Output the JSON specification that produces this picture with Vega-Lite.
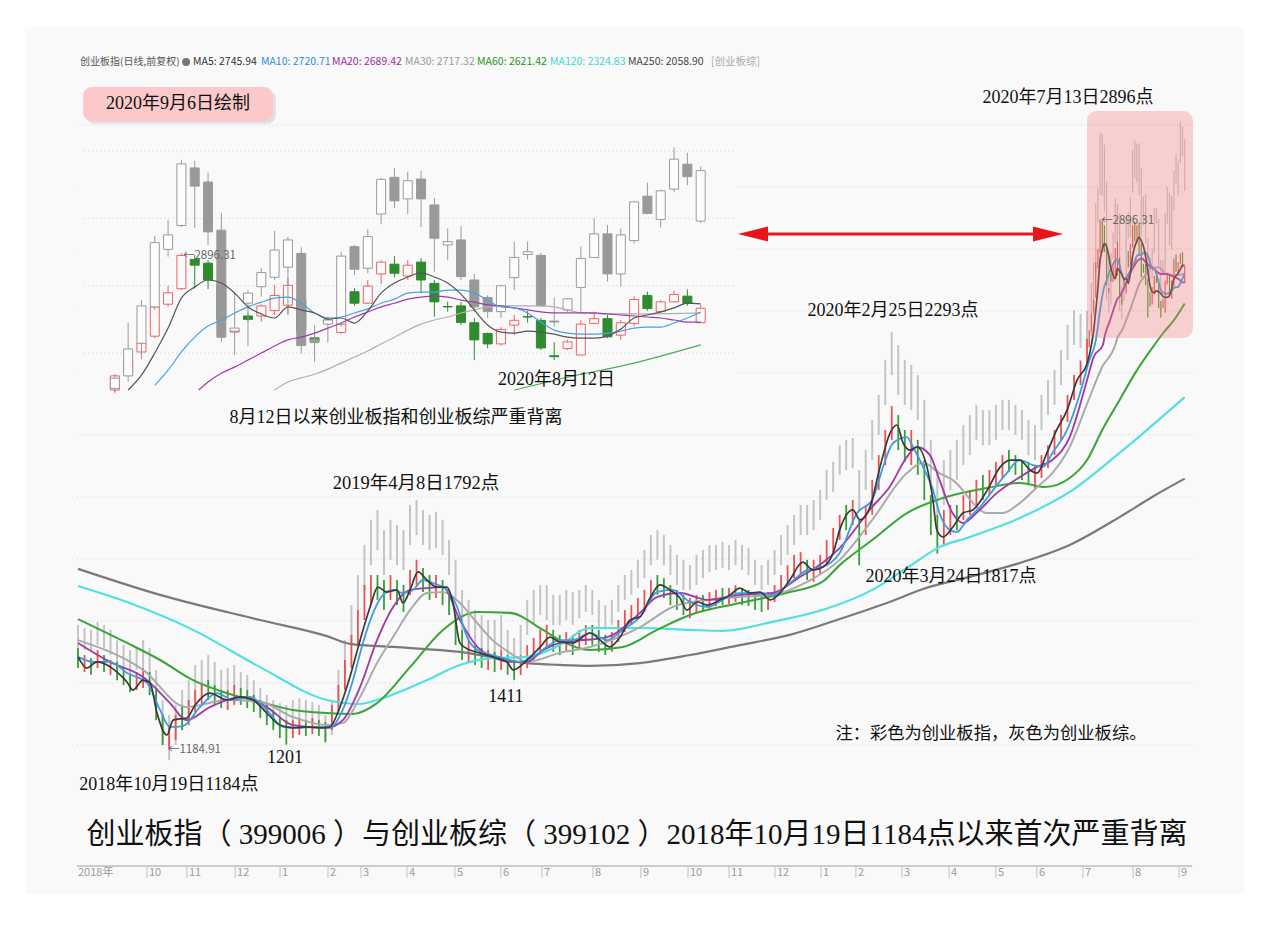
{
"$schema":"https://vega.github.io/schema/vega-lite/v6.json",
"width":1273,"height":936,"autosize":{"type":"none"},"padding":0,"background":"#ffffff",
"config":{"view":{"stroke":null}},
"data":{"values":[{}]},
"datasets":{
"grid":[{"g":1200},{"g":1400},{"g":1600},{"g":1800},{"g":2000},{"g":2200},{"g":2400},{"g":2600},{"g":2800},{"g":3000},{"g":3200}],
"igrid":[{"g":2600},{"g":2800},{"g":3000},{"g":3200}],
"months":[{"i":31.8,"t":"10"},{"i":50.2,"t":"11"},{"i":72.4,"t":"12"},{"i":93.1,"t":"1"},{"i":115.2,"t":"2"},{"i":130.4,"t":"3"},{"i":151.6,"t":"4"},{"i":173.7,"t":"5"},{"i":194.9,"t":"6"},{"i":213.8,"t":"7"},{"i":237.3,"t":"8"},{"i":259.4,"t":"9"},{"i":281.1,"t":"10"},{"i":300,"t":"11"},{"i":321.2,"t":"12"},{"i":342.4,"t":"1"},{"i":358.5,"t":"2"},{"i":379.7,"t":"3"},{"i":401.4,"t":"4"},{"i":423,"t":"5"},{"i":441.9,"t":"6"},{"i":463.1,"t":"7"},{"i":486.2,"t":"8"},{"i":507.4,"t":"9"}],
"bars":[
{"i":0,"ch":1513,"cl":1448,"u":0,"gh":1587,"gl":1500},
{"i":3,"ch":1490,"cl":1435,"u":1,"gh":1577,"gl":1506},
{"i":6,"ch":1480,"cl":1426,"u":0,"gh":1571,"gl":1500},
{"i":9,"ch":1506,"cl":1448,"u":1,"gh":1597,"gl":1522},
{"i":12,"ch":1490,"cl":1435,"u":0,"gh":1587,"gl":1513},
{"i":15,"ch":1474,"cl":1426,"u":1,"gh":1571,"gl":1490},
{"i":18,"ch":1468,"cl":1409,"u":0,"gh":1538,"gl":1468},
{"i":21,"ch":1448,"cl":1393,"u":0,"gh":1522,"gl":1448},
{"i":24,"ch":1426,"cl":1371,"u":0,"gh":1506,"gl":1426},
{"i":27,"ch":1435,"cl":1377,"u":1,"gh":1513,"gl":1442},
{"i":30,"ch":1448,"cl":1384,"u":1,"gh":1538,"gl":1448},
{"i":33,"ch":1435,"cl":1361,"u":0,"gh":1513,"gl":1426},
{"i":36,"ch":1377,"cl":1280,"u":0,"gh":1442,"gl":1313},
{"i":39,"ch":1297,"cl":1200,"u":0,"gh":1345,"gl":1200},
{"i":42,"ch":1264,"cl":1185,"u":1,"gh":1297,"gl":1151},
{"i":45,"ch":1297,"cl":1216,"u":1,"gh":1329,"gl":1200},
{"i":48,"ch":1329,"cl":1248,"u":0,"gh":1377,"gl":1248},
{"i":51,"ch":1345,"cl":1264,"u":1,"gh":1409,"gl":1297},
{"i":54,"ch":1377,"cl":1306,"u":1,"gh":1458,"gl":1345},
{"i":57,"ch":1393,"cl":1329,"u":1,"gh":1474,"gl":1377},
{"i":60,"ch":1409,"cl":1345,"u":0,"gh":1490,"gl":1393},
{"i":63,"ch":1393,"cl":1329,"u":0,"gh":1468,"gl":1377},
{"i":66,"ch":1377,"cl":1319,"u":0,"gh":1442,"gl":1361},
{"i":69,"ch":1377,"cl":1313,"u":1,"gh":1448,"gl":1361},
{"i":72,"ch":1393,"cl":1329,"u":1,"gh":1458,"gl":1377},
{"i":75,"ch":1384,"cl":1329,"u":0,"gh":1435,"gl":1361},
{"i":78,"ch":1377,"cl":1319,"u":0,"gh":1426,"gl":1352},
{"i":81,"ch":1361,"cl":1306,"u":0,"gh":1409,"gl":1329},
{"i":84,"ch":1345,"cl":1287,"u":0,"gh":1384,"gl":1306},
{"i":87,"ch":1329,"cl":1264,"u":0,"gh":1361,"gl":1287},
{"i":90,"ch":1306,"cl":1248,"u":0,"gh":1345,"gl":1264},
{"i":93,"ch":1287,"cl":1222,"u":0,"gh":1335,"gl":1255},
{"i":96,"ch":1280,"cl":1201,"u":0,"gh":1329,"gl":1264},
{"i":99,"ch":1280,"cl":1222,"u":1,"gh":1345,"gl":1274},
{"i":102,"ch":1287,"cl":1232,"u":1,"gh":1351,"gl":1280},
{"i":105,"ch":1280,"cl":1229,"u":0,"gh":1345,"gl":1274},
{"i":108,"ch":1287,"cl":1235,"u":1,"gh":1338,"gl":1274},
{"i":111,"ch":1280,"cl":1229,"u":0,"gh":1329,"gl":1264},
{"i":114,"ch":1274,"cl":1209,"u":0,"gh":1297,"gl":1209},
{"i":117,"ch":1329,"cl":1248,"u":1,"gh":1345,"gl":1232},
{"i":120,"ch":1393,"cl":1306,"u":1,"gh":1442,"gl":1329},
{"i":123,"ch":1474,"cl":1377,"u":1,"gh":1538,"gl":1426},
{"i":126,"ch":1555,"cl":1448,"u":1,"gh":1651,"gl":1522},
{"i":129,"ch":1635,"cl":1522,"u":1,"gh":1748,"gl":1619},
{"i":132,"ch":1716,"cl":1603,"u":1,"gh":1845,"gl":1700},
{"i":135,"ch":1748,"cl":1651,"u":1,"gh":1926,"gl":1780},
{"i":138,"ch":1748,"cl":1668,"u":0,"gh":1958,"gl":1829},
{"i":141,"ch":1732,"cl":1635,"u":0,"gh":1893,"gl":1748},
{"i":144,"ch":1748,"cl":1668,"u":1,"gh":1926,"gl":1797},
{"i":147,"ch":1732,"cl":1651,"u":0,"gh":1909,"gl":1780},
{"i":150,"ch":1716,"cl":1629,"u":0,"gh":1893,"gl":1764},
{"i":153,"ch":1764,"cl":1684,"u":1,"gh":1974,"gl":1845},
{"i":156,"ch":1797,"cl":1716,"u":1,"gh":1990,"gl":1877},
{"i":159,"ch":1771,"cl":1693,"u":0,"gh":1958,"gl":1845},
{"i":162,"ch":1748,"cl":1668,"u":0,"gh":1942,"gl":1829},
{"i":165,"ch":1748,"cl":1674,"u":1,"gh":1952,"gl":1835},
{"i":168,"ch":1732,"cl":1651,"u":0,"gh":1926,"gl":1813},
{"i":171,"ch":1700,"cl":1619,"u":0,"gh":1861,"gl":1748},
{"i":174,"ch":1619,"cl":1522,"u":0,"gh":1797,"gl":1668},
{"i":177,"ch":1571,"cl":1474,"u":0,"gh":1700,"gl":1571},
{"i":180,"ch":1538,"cl":1468,"u":1,"gh":1668,"gl":1538},
{"i":183,"ch":1522,"cl":1458,"u":0,"gh":1635,"gl":1522},
{"i":186,"ch":1513,"cl":1448,"u":0,"gh":1619,"gl":1506},
{"i":189,"ch":1506,"cl":1442,"u":1,"gh":1603,"gl":1490},
{"i":192,"ch":1500,"cl":1435,"u":0,"gh":1603,"gl":1474},
{"i":195,"ch":1506,"cl":1442,"u":1,"gh":1619,"gl":1506},
{"i":198,"ch":1490,"cl":1426,"u":0,"gh":1571,"gl":1468},
{"i":201,"ch":1474,"cl":1409,"u":0,"gh":1545,"gl":1458},
{"i":204,"ch":1490,"cl":1426,"u":1,"gh":1587,"gl":1490},
{"i":207,"ch":1522,"cl":1448,"u":1,"gh":1668,"gl":1555},
{"i":210,"ch":1545,"cl":1474,"u":1,"gh":1700,"gl":1587},
{"i":213,"ch":1571,"cl":1500,"u":1,"gh":1716,"gl":1619},
{"i":216,"ch":1587,"cl":1513,"u":1,"gh":1716,"gl":1603},
{"i":219,"ch":1571,"cl":1500,"u":0,"gh":1684,"gl":1587},
{"i":222,"ch":1555,"cl":1490,"u":0,"gh":1684,"gl":1587},
{"i":225,"ch":1564,"cl":1500,"u":1,"gh":1700,"gl":1603},
{"i":228,"ch":1555,"cl":1490,"u":0,"gh":1693,"gl":1587},
{"i":231,"ch":1571,"cl":1506,"u":1,"gh":1700,"gl":1609},
{"i":234,"ch":1587,"cl":1522,"u":1,"gh":1716,"gl":1629},
{"i":237,"ch":1587,"cl":1522,"u":0,"gh":1700,"gl":1619},
{"i":240,"ch":1571,"cl":1500,"u":0,"gh":1668,"gl":1577},
{"i":243,"ch":1555,"cl":1490,"u":0,"gh":1651,"gl":1571},
{"i":246,"ch":1564,"cl":1500,"u":1,"gh":1668,"gl":1587},
{"i":249,"ch":1603,"cl":1532,"u":1,"gh":1716,"gl":1629},
{"i":252,"ch":1635,"cl":1564,"u":1,"gh":1748,"gl":1668},
{"i":255,"ch":1651,"cl":1587,"u":1,"gh":1764,"gl":1684},
{"i":258,"ch":1674,"cl":1603,"u":1,"gh":1797,"gl":1706},
{"i":261,"ch":1700,"cl":1629,"u":1,"gh":1829,"gl":1738},
{"i":264,"ch":1732,"cl":1668,"u":1,"gh":1877,"gl":1780},
{"i":267,"ch":1748,"cl":1684,"u":0,"gh":1893,"gl":1797},
{"i":270,"ch":1738,"cl":1674,"u":0,"gh":1877,"gl":1780},
{"i":273,"ch":1716,"cl":1651,"u":0,"gh":1845,"gl":1748},
{"i":276,"ch":1700,"cl":1635,"u":0,"gh":1813,"gl":1716},
{"i":279,"ch":1684,"cl":1619,"u":0,"gh":1797,"gl":1700},
{"i":282,"ch":1674,"cl":1609,"u":1,"gh":1780,"gl":1700},
{"i":285,"ch":1684,"cl":1629,"u":1,"gh":1813,"gl":1716},
{"i":288,"ch":1684,"cl":1629,"u":0,"gh":1829,"gl":1738},
{"i":291,"ch":1693,"cl":1635,"u":1,"gh":1845,"gl":1758},
{"i":294,"ch":1700,"cl":1648,"u":1,"gh":1845,"gl":1764},
{"i":297,"ch":1706,"cl":1651,"u":0,"gh":1855,"gl":1771},
{"i":300,"ch":1706,"cl":1655,"u":1,"gh":1845,"gl":1764},
{"i":303,"ch":1716,"cl":1661,"u":1,"gh":1861,"gl":1780},
{"i":306,"ch":1706,"cl":1651,"u":0,"gh":1845,"gl":1764},
{"i":309,"ch":1700,"cl":1648,"u":0,"gh":1835,"gl":1748},
{"i":312,"ch":1693,"cl":1635,"u":0,"gh":1797,"gl":1716},
{"i":315,"ch":1684,"cl":1629,"u":0,"gh":1780,"gl":1700},
{"i":318,"ch":1693,"cl":1635,"u":1,"gh":1797,"gl":1716},
{"i":321,"ch":1716,"cl":1661,"u":1,"gh":1829,"gl":1748},
{"i":324,"ch":1748,"cl":1684,"u":1,"gh":1877,"gl":1780},
{"i":327,"ch":1780,"cl":1716,"u":1,"gh":1909,"gl":1813},
{"i":330,"ch":1813,"cl":1738,"u":1,"gh":1942,"gl":1845},
{"i":333,"ch":1822,"cl":1748,"u":1,"gh":1974,"gl":1877},
{"i":336,"ch":1797,"cl":1732,"u":0,"gh":1974,"gl":1877},
{"i":339,"ch":1797,"cl":1726,"u":1,"gh":1990,"gl":1893},
{"i":342,"ch":1813,"cl":1748,"u":1,"gh":2022,"gl":1926},
{"i":345,"ch":1861,"cl":1780,"u":1,"gh":2087,"gl":1990},
{"i":348,"ch":1900,"cl":1822,"u":1,"gh":2113,"gl":2016},
{"i":351,"ch":1942,"cl":1861,"u":1,"gh":2167,"gl":2071},
{"i":354,"ch":1974,"cl":1893,"u":0,"gh":2184,"gl":2087},
{"i":357,"ch":1990,"cl":1909,"u":1,"gh":2190,"gl":2093},
{"i":360,"ch":1926,"cl":1780,"u":0,"gh":2087,"gl":1958},
{"i":363,"ch":1974,"cl":1877,"u":1,"gh":2151,"gl":2022},
{"i":366,"ch":2055,"cl":1942,"u":1,"gh":2248,"gl":2119},
{"i":369,"ch":2135,"cl":2022,"u":1,"gh":2329,"gl":2200},
{"i":372,"ch":2216,"cl":2103,"u":1,"gh":2442,"gl":2297},
{"i":375,"ch":2293,"cl":2184,"u":1,"gh":2532,"gl":2393},
{"i":378,"ch":2264,"cl":2151,"u":0,"gh":2490,"gl":2329},
{"i":381,"ch":2216,"cl":2113,"u":0,"gh":2442,"gl":2297},
{"i":384,"ch":2216,"cl":2103,"u":1,"gh":2426,"gl":2280},
{"i":387,"ch":2184,"cl":2071,"u":0,"gh":2393,"gl":2248},
{"i":390,"ch":2119,"cl":1990,"u":0,"gh":2313,"gl":2151},
{"i":393,"ch":2006,"cl":1877,"u":0,"gh":2184,"gl":2022},
{"i":396,"ch":1942,"cl":1817,"u":0,"gh":2087,"gl":1942},
{"i":399,"ch":1958,"cl":1845,"u":1,"gh":2119,"gl":1974},
{"i":402,"ch":1974,"cl":1877,"u":1,"gh":2151,"gl":2022},
{"i":405,"ch":1974,"cl":1893,"u":0,"gh":2184,"gl":2055},
{"i":408,"ch":2006,"cl":1926,"u":1,"gh":2232,"gl":2103},
{"i":411,"ch":2022,"cl":1942,"u":1,"gh":2264,"gl":2135},
{"i":414,"ch":2055,"cl":1974,"u":1,"gh":2297,"gl":2184},
{"i":417,"ch":2071,"cl":1990,"u":0,"gh":2280,"gl":2167},
{"i":420,"ch":2087,"cl":2006,"u":1,"gh":2280,"gl":2167},
{"i":423,"ch":2113,"cl":2038,"u":1,"gh":2297,"gl":2184},
{"i":426,"ch":2135,"cl":2061,"u":1,"gh":2313,"gl":2216},
{"i":429,"ch":2151,"cl":2080,"u":0,"gh":2313,"gl":2216},
{"i":432,"ch":2135,"cl":2071,"u":0,"gh":2297,"gl":2200},
{"i":435,"ch":2119,"cl":2055,"u":0,"gh":2280,"gl":2184},
{"i":438,"ch":2113,"cl":2038,"u":0,"gh":2248,"gl":2135},
{"i":441,"ch":2103,"cl":2022,"u":1,"gh":2232,"gl":2119},
{"i":444,"ch":2135,"cl":2061,"u":1,"gh":2329,"gl":2216},
{"i":447,"ch":2167,"cl":2093,"u":1,"gh":2377,"gl":2264},
{"i":450,"ch":2216,"cl":2135,"u":1,"gh":2409,"gl":2297},
{"i":453,"ch":2264,"cl":2184,"u":1,"gh":2474,"gl":2361},
{"i":456,"ch":2329,"cl":2242,"u":1,"gh":2555,"gl":2442},
{"i":459,"ch":2393,"cl":2313,"u":1,"gh":2603,"gl":2490},
{"i":462,"ch":2440,"cl":2361,"u":1,"gh":2590,"gl":2480},
{"i":465,"ch":2510,"cl":2420,"u":1,"gh":2600,"gl":2500},
{"i":466,"go":2495,"gc":2525,"gh":2535,"gl":2480,"co":2490,"cc":2532,"ch":2537,"cl":2484,"u":1},
{"i":467,"go":2532,"gc":2612,"gh":2690,"gl":2515,"co":2543,"cc":2579,"ch":2591,"cl":2534,"u":1},
{"i":468,"go":2629,"gc":2740,"gh":2757,"gl":2582,"co":2603,"cc":2630,"ch":2636,"cl":2594,"u":1},
{"i":469,"go":2737,"gc":2928,"gh":2948,"gl":2728,"co":2650,"cc":2737,"ch":2757,"cl":2644,"u":1},
{"i":470,"go":2908,"gc":2951,"gh":2995,"gl":2886,"co":2745,"cc":2779,"ch":2800,"cl":2737,"u":1},
{"i":471,"go":2979,"gc":3162,"gh":3174,"gl":2974,"co":2791,"cc":2890,"ch":2896,"cl":2787,"u":1},
{"i":472,"go":3150,"gc":3096,"gh":3171,"gl":2972,"co":2878,"cc":2861,"ch":2891,"cl":2792,"u":0},
{"i":473,"go":3108,"gc":2960,"gh":3136,"gl":2921,"co":2867,"cc":2817,"ch":2876,"cl":2790,"u":0},
{"i":474,"go":2965,"gc":2647,"gh":3017,"gl":2633,"co":2802,"cc":2698,"ch":2817,"cl":2683,"u":0},
{"i":475,"go":2665,"gc":2674,"gh":2778,"gl":2594,"co":2662,"cc":2666,"ch":2674,"cl":2659,"u":1},
{"i":476,"go":2748,"gc":2778,"gh":2787,"gl":2621,"co":2710,"cc":2700,"ch":2719,"cl":2695,"u":0},
{"i":477,"go":2797,"gc":2839,"gh":2852,"gl":2767,"co":2710,"cc":2740,"ch":2745,"cl":2693,"u":1},
{"i":478,"go":2825,"gc":2906,"gh":2963,"gl":2817,"co":2726,"cc":2771,"ch":2802,"cl":2713,"u":1},
{"i":479,"go":2855,"gc":2936,"gh":2945,"gl":2718,"co":2742,"cc":2801,"ch":2823,"cl":2713,"u":1},
{"i":480,"go":2896,"gc":2622,"gh":2914,"gl":2599,"co":2757,"cc":2668,"ch":2772,"cl":2653,"u":0},
{"i":481,"go":2641,"gc":2631,"gh":2683,"gl":2574,"co":2645,"cc":2636,"ch":2652,"cl":2620,"u":0},
{"i":482,"go":2686,"gc":2698,"gh":2708,"gl":2631,"co":2698,"cc":2692,"ch":2704,"cl":2683,"u":0},
{"i":483,"go":2686,"gc":2888,"gh":2900,"gl":2677,"co":2661,"cc":2686,"ch":2692,"cl":2656,"u":1},
{"i":484,"go":2916,"gc":2849,"gh":2921,"gl":2832,"co":2782,"cc":2748,"ch":2793,"cl":2740,"u":0},
{"i":485,"go":2852,"gc":2946,"gh":2968,"gl":2837,"co":2748,"cc":2799,"ch":2817,"cl":2745,"u":1},
{"i":486,"go":3013,"gc":3116,"gh":3120,"gl":2983,"co":2835,"cc":2870,"ch":2876,"cl":2805,"u":1},
{"i":487,"go":3122,"gc":3052,"gh":3149,"gl":3030,"co":2864,"cc":2837,"ch":2888,"cl":2825,"u":0},
{"i":488,"go":3058,"gc":3112,"gh":3139,"gl":3013,"co":2829,"cc":2861,"ch":2876,"cl":2817,"u":1},
{"i":489,"go":3117,"gc":3058,"gh":3141,"gl":2974,"co":2870,"cc":2817,"ch":2882,"cl":2777,"u":0},
{"i":490,"go":3040,"gc":2941,"gh":3061,"gl":2842,"co":2807,"cc":2752,"ch":2817,"cl":2708,"u":0},
{"i":491,"go":2921,"gc":2931,"gh":2970,"gl":2876,"co":2738,"cc":2737,"ch":2752,"cl":2723,"u":0},
{"i":492,"go":2936,"gc":2827,"gh":2977,"gl":2817,"co":2740,"cc":2691,"ch":2751,"cl":2683,"u":0},
{"i":493,"go":2817,"gc":2737,"gh":2834,"gl":2723,"co":2690,"cc":2639,"ch":2704,"cl":2579,"u":0},
{"i":494,"go":2765,"gc":2723,"gh":2772,"gl":2704,"co":2658,"cc":2627,"ch":2661,"cl":2614,"u":0},
{"i":495,"go":2723,"gc":2800,"gh":2802,"gl":2704,"co":2627,"cc":2670,"ch":2677,"cl":2621,"u":1},
{"i":496,"go":2824,"gc":2884,"gh":2931,"gl":2787,"co":2683,"cc":2697,"ch":2713,"cl":2653,"u":1},
{"i":497,"go":2893,"gc":2901,"gh":2931,"gl":2878,"co":2708,"cc":2707,"ch":2725,"cl":2690,"u":0},
{"i":498,"go":2890,"gc":2740,"gh":2897,"gl":2740,"co":2697,"cc":2615,"ch":2704,"cl":2609,"u":0},
{"i":499,"go":2695,"gc":2692,"gh":2765,"gl":2678,"co":2592,"cc":2589,"ch":2632,"cl":2579,"u":0},
{"i":500,"go":2728,"gc":2761,"gh":2763,"gl":2722,"co":2613,"cc":2633,"ch":2639,"cl":2609,"u":1},
{"i":501,"go":2795,"gc":2881,"gh":2916,"gl":2722,"co":2594,"cc":2686,"ch":2698,"cl":2594,"u":1},
{"i":502,"go":2884,"gc":2954,"gh":3000,"gl":2882,"co":2688,"cc":2702,"ch":2723,"cl":2686,"u":1},
{"i":503,"go":2954,"gc":2835,"gh":2980,"gl":2812,"co":2702,"cc":2648,"ch":2713,"cl":2644,"u":0},
{"i":504,"go":2835,"gc":2951,"gh":2970,"gl":2797,"co":2653,"cc":2690,"ch":2698,"cl":2639,"u":1},
{"i":505,"go":2934,"gc":3049,"gh":3052,"gl":2926,"co":2688,"cc":2759,"ch":2769,"cl":2680,"u":1},
{"i":506,"go":3066,"gc":3015,"gh":3106,"gl":3012,"co":2771,"cc":2732,"ch":2782,"cl":2726,"u":0},
{"i":507,"go":2997,"gc":3082,"gh":3085,"gl":2973,"co":2723,"cc":2752,"ch":2757,"cl":2719,"u":1},
{"i":508,"go":3087,"gc":3176,"gh":3211,"gl":3078,"co":2752,"cc":2774,"ch":2785,"cl":2751,"u":1},
{"i":509,"go":3161,"gc":3124,"gh":3195,"gl":3099,"co":2769,"cc":2748,"ch":2789,"cl":2740,"u":0},
{"i":510,"go":2992,"gc":3142,"gh":3154,"gl":2987,"co":2690,"cc":2733,"ch":2743,"cl":2690,"u":1}
],
"ma":[
{"m":"MA250","i":0,"v":1768},{"m":"MA250","i":37.8,"v":1684},{"m":"MA250","i":83.9,"v":1603},{"m":"MA250","i":114.7,"v":1551},{"m":"MA250","i":125.3,"v":1526},{"m":"MA250","i":145.2,"v":1516},{"m":"MA250","i":176,"v":1500},{"m":"MA250","i":206.9,"v":1464},{"m":"MA250","i":222,"v":1458},{"m":"MA250","i":236,"v":1455},{"m":"MA250","i":259,"v":1464},{"m":"MA250","i":282,"v":1490},{"m":"MA250","i":305,"v":1522},{"m":"MA250","i":328,"v":1555},{"m":"MA250","i":351,"v":1606},{"m":"MA250","i":374,"v":1661},{"m":"MA250","i":389.4,"v":1703},{"m":"MA250","i":411,"v":1742},{"m":"MA250","i":434,"v":1787},{"m":"MA250","i":457,"v":1845},{"m":"MA250","i":480,"v":1935},{"m":"MA250","i":495,"v":2000},{"m":"MA250","i":510,"v":2059},
{"m":"MA120","i":0,"v":1713},{"m":"MA120","i":22.6,"v":1661},{"m":"MA120","i":53,"v":1571},{"m":"MA120","i":83.9,"v":1451},{"m":"MA120","i":114.7,"v":1345},{"m":"MA120","i":130,"v":1332},{"m":"MA120","i":137.8,"v":1345},{"m":"MA120","i":160.8,"v":1409},{"m":"MA120","i":176,"v":1458},{"m":"MA120","i":191,"v":1480},{"m":"MA120","i":207,"v":1484},{"m":"MA120","i":222,"v":1522},{"m":"MA120","i":236,"v":1577},{"m":"MA120","i":259,"v":1577},{"m":"MA120","i":282,"v":1571},{"m":"MA120","i":297,"v":1568},{"m":"MA120","i":320,"v":1597},{"m":"MA120","i":343,"v":1635},{"m":"MA120","i":366,"v":1700},{"m":"MA120","i":382,"v":1771},{"m":"MA120","i":397,"v":1838},{"m":"MA120","i":411,"v":1871},{"m":"MA120","i":434,"v":1932},{"m":"MA120","i":457,"v":2016},{"m":"MA120","i":480,"v":2142},{"m":"MA120","i":510,"v":2322},
{"m":"MA60","i":0,"v":1606},{"m":"MA60","i":22.6,"v":1529},{"m":"MA60","i":37.8,"v":1474},{"m":"MA60","i":53,"v":1409},{"m":"MA60","i":68.7,"v":1367},{"m":"MA60","i":83.9,"v":1339},{"m":"MA60","i":99,"v":1313},{"m":"MA60","i":114.7,"v":1303},{"m":"MA60","i":126.7,"v":1300},{"m":"MA60","i":137.8,"v":1335},{"m":"MA60","i":153,"v":1451},{"m":"MA60","i":168.2,"v":1571},{"m":"MA60","i":184,"v":1629},{"m":"MA60","i":199,"v":1626},{"m":"MA60","i":214.3,"v":1571},{"m":"MA60","i":222,"v":1538},{"m":"MA60","i":236,"v":1506},{"m":"MA60","i":251,"v":1516},{"m":"MA60","i":266.8,"v":1571},{"m":"MA60","i":282,"v":1619},{"m":"MA60","i":305,"v":1658},{"m":"MA60","i":328,"v":1693},{"m":"MA60","i":343,"v":1726},{"m":"MA60","i":351,"v":1780},{"m":"MA60","i":366,"v":1861},{"m":"MA60","i":382,"v":1948},{"m":"MA60","i":397,"v":1993},{"m":"MA60","i":419,"v":2029},{"m":"MA60","i":434,"v":2045},{"m":"MA60","i":445.6,"v":2032},{"m":"MA60","i":457,"v":2061},{"m":"MA60","i":465,"v":2119},{"m":"MA60","i":472,"v":2216},{"m":"MA60","i":480,"v":2313},{"m":"MA60","i":488,"v":2409},{"m":"MA60","i":496,"v":2490},{"m":"MA60","i":500,"v":2528},{"m":"MA60","i":505,"v":2570},{"m":"MA60","i":510,"v":2624},
{"m":"MA30","i":0,"v":1538},{"m":"MA30","i":30,"v":1442},{"m":"MA30","i":50,"v":1322},{"m":"MA30","i":68.7,"v":1345},{"m":"MA30","i":83.9,"v":1339},{"m":"MA30","i":99,"v":1290},{"m":"MA30","i":114.7,"v":1264},{"m":"MA30","i":122,"v":1271},{"m":"MA30","i":130,"v":1355},{"m":"MA30","i":137.8,"v":1464},{"m":"MA30","i":145.2,"v":1548},{"m":"MA30","i":153,"v":1635},{"m":"MA30","i":160.8,"v":1690},{"m":"MA30","i":168.2,"v":1693},{"m":"MA30","i":176,"v":1658},{"m":"MA30","i":184,"v":1593},{"m":"MA30","i":191,"v":1538},{"m":"MA30","i":199,"v":1497},{"m":"MA30","i":207,"v":1468},{"m":"MA30","i":222,"v":1497},{"m":"MA30","i":236,"v":1516},{"m":"MA30","i":259,"v":1580},{"m":"MA30","i":274,"v":1645},{"m":"MA30","i":290,"v":1668},{"m":"MA30","i":305,"v":1677},{"m":"MA30","i":320,"v":1684},{"m":"MA30","i":336,"v":1726},{"m":"MA30","i":351,"v":1797},{"m":"MA30","i":366,"v":1926},{"m":"MA30","i":382,"v":2077},{"m":"MA30","i":389.4,"v":2110},{"m":"MA30","i":397,"v":2077},{"m":"MA30","i":403,"v":2055},{"m":"MA30","i":419,"v":1948},{"m":"MA30","i":426,"v":1948},{"m":"MA30","i":434,"v":1980},{"m":"MA30","i":442,"v":2032},{"m":"MA30","i":449,"v":2077},{"m":"MA30","i":457,"v":2161},{"m":"MA30","i":465,"v":2300},{"m":"MA30","i":472,"v":2420},{"m":"MA30","i":478,"v":2490},{"m":"MA30","i":479,"v":2514},{"m":"MA30","i":480,"v":2526},{"m":"MA30","i":481,"v":2537},{"m":"MA30","i":482,"v":2552},{"m":"MA30","i":483,"v":2570},{"m":"MA30","i":484,"v":2588},{"m":"MA30","i":485,"v":2606},{"m":"MA30","i":486,"v":2627},{"m":"MA30","i":487,"v":2647},{"m":"MA30","i":488,"v":2668},{"m":"MA30","i":489,"v":2686},{"m":"MA30","i":490,"v":2698},{"m":"MA30","i":491,"v":2707},{"m":"MA30","i":492,"v":2719},{"m":"MA30","i":493,"v":2728},{"m":"MA30","i":494,"v":2737},{"m":"MA30","i":496,"v":2740},{"m":"MA30","i":498,"v":2740},{"m":"MA30","i":499,"v":2737},{"m":"MA30","i":500,"v":2728},{"m":"MA30","i":501,"v":2719},{"m":"MA30","i":504,"v":2716},{"m":"MA30","i":506,"v":2716},{"m":"MA30","i":510,"v":2719},
{"m":"MA20","i":0,"v":1529},{"m":"MA20","i":14.7,"v":1468},{"m":"MA20","i":30,"v":1419},{"m":"MA20","i":42.4,"v":1335},{"m":"MA20","i":50,"v":1280},{"m":"MA20","i":60.8,"v":1322},{"m":"MA20","i":76,"v":1355},{"m":"MA20","i":87,"v":1322},{"m":"MA20","i":99,"v":1264},{"m":"MA20","i":114.7,"v":1255},{"m":"MA20","i":122,"v":1280},{"m":"MA20","i":130,"v":1387},{"m":"MA20","i":137.8,"v":1538},{"m":"MA20","i":145.2,"v":1645},{"m":"MA20","i":153,"v":1700},{"m":"MA20","i":160.8,"v":1706},{"m":"MA20","i":168.2,"v":1709},{"m":"MA20","i":176,"v":1603},{"m":"MA20","i":184,"v":1516},{"m":"MA20","i":191,"v":1484},{"m":"MA20","i":199,"v":1468},{"m":"MA20","i":207,"v":1468},{"m":"MA20","i":214.3,"v":1506},{"m":"MA20","i":222,"v":1529},{"m":"MA20","i":243.8,"v":1548},{"m":"MA20","i":259,"v":1626},{"m":"MA20","i":266.8,"v":1677},{"m":"MA20","i":277.4,"v":1690},{"m":"MA20","i":290,"v":1668},{"m":"MA20","i":305,"v":1684},{"m":"MA20","i":320,"v":1690},{"m":"MA20","i":332.7,"v":1742},{"m":"MA20","i":343,"v":1787},{"m":"MA20","i":351,"v":1835},{"m":"MA20","i":366,"v":1968},{"m":"MA20","i":374,"v":2032},{"m":"MA20","i":382,"v":2129},{"m":"MA20","i":386.6,"v":2161},{"m":"MA20","i":392.6,"v":2135},{"m":"MA20","i":397,"v":2055},{"m":"MA20","i":403,"v":1948},{"m":"MA20","i":408,"v":1916},{"m":"MA20","i":414,"v":1948},{"m":"MA20","i":423.5,"v":2013},{"m":"MA20","i":434,"v":2064},{"m":"MA20","i":442,"v":2097},{"m":"MA20","i":449,"v":2119},{"m":"MA20","i":457,"v":2193},{"m":"MA20","i":465,"v":2377},{"m":"MA20","i":468,"v":2451},{"m":"MA20","i":472.3,"v":2490},{"m":"MA20","i":473,"v":2514},{"m":"MA20","i":474,"v":2540},{"m":"MA20","i":475,"v":2558},{"m":"MA20","i":476,"v":2579},{"m":"MA20","i":477,"v":2600},{"m":"MA20","i":478,"v":2621},{"m":"MA20","i":479,"v":2639},{"m":"MA20","i":480,"v":2647},{"m":"MA20","i":481,"v":2659},{"m":"MA20","i":482,"v":2674},{"m":"MA20","i":483,"v":2689},{"m":"MA20","i":484,"v":2707},{"m":"MA20","i":485,"v":2722},{"m":"MA20","i":486,"v":2737},{"m":"MA20","i":487,"v":2748},{"m":"MA20","i":488,"v":2760},{"m":"MA20","i":489,"v":2766},{"m":"MA20","i":490,"v":2769},{"m":"MA20","i":491,"v":2766},{"m":"MA20","i":492,"v":2757},{"m":"MA20","i":493,"v":2751},{"m":"MA20","i":494,"v":2743},{"m":"MA20","i":495,"v":2740},{"m":"MA20","i":496,"v":2734},{"m":"MA20","i":497,"v":2728},{"m":"MA20","i":498,"v":2722},{"m":"MA20","i":499,"v":2719},{"m":"MA20","i":502,"v":2719},{"m":"MA20","i":503,"v":2716},{"m":"MA20","i":504,"v":2713},{"m":"MA20","i":505,"v":2710},{"m":"MA20","i":506,"v":2707},{"m":"MA20","i":507,"v":2704},{"m":"MA20","i":508,"v":2698},{"m":"MA20","i":509,"v":2692},{"m":"MA20","i":510,"v":2692},
{"m":"MA10","i":0,"v":1484},{"m":"MA10","i":6.9,"v":1468},{"m":"MA10","i":14.7,"v":1468},{"m":"MA10","i":22.6,"v":1432},{"m":"MA10","i":31.8,"v":1400},{"m":"MA10","i":37.8,"v":1313},{"m":"MA10","i":42.4,"v":1258},{"m":"MA10","i":48.4,"v":1261},{"m":"MA10","i":56.2,"v":1322},{"m":"MA10","i":64,"v":1367},{"m":"MA10","i":71.4,"v":1345},{"m":"MA10","i":79.3,"v":1355},{"m":"MA10","i":87,"v":1313},{"m":"MA10","i":94.5,"v":1258},{"m":"MA10","i":102.3,"v":1255},{"m":"MA10","i":111.5,"v":1258},{"m":"MA10","i":116,"v":1255},{"m":"MA10","i":122,"v":1313},{"m":"MA10","i":126.7,"v":1409},{"m":"MA10","i":131.3,"v":1529},{"m":"MA10","i":136,"v":1626},{"m":"MA10","i":140.6,"v":1684},{"m":"MA10","i":145.2,"v":1700},{"m":"MA10","i":149.8,"v":1690},{"m":"MA10","i":154.4,"v":1700},{"m":"MA10","i":159,"v":1732},{"m":"MA10","i":163.6,"v":1722},{"m":"MA10","i":170,"v":1700},{"m":"MA10","i":174.7,"v":1645},{"m":"MA10","i":179.3,"v":1548},{"m":"MA10","i":184,"v":1506},{"m":"MA10","i":191,"v":1490},{"m":"MA10","i":199,"v":1474},{"m":"MA10","i":203.7,"v":1468},{"m":"MA10","i":209.7,"v":1484},{"m":"MA10","i":216,"v":1516},{"m":"MA10","i":222,"v":1538},{"m":"MA10","i":228,"v":1538},{"m":"MA10","i":236,"v":1561},{"m":"MA10","i":243.8,"v":1538},{"m":"MA10","i":251,"v":1571},{"m":"MA10","i":259,"v":1613},{"m":"MA10","i":266.8,"v":1693},{"m":"MA10","i":274,"v":1700},{"m":"MA10","i":282,"v":1661},{"m":"MA10","i":290,"v":1645},{"m":"MA10","i":297,"v":1668},{"m":"MA10","i":305,"v":1690},{"m":"MA10","i":313,"v":1690},{"m":"MA10","i":320,"v":1684},{"m":"MA10","i":328,"v":1722},{"m":"MA10","i":336,"v":1764},{"m":"MA10","i":343,"v":1774},{"m":"MA10","i":351,"v":1819},{"m":"MA10","i":359,"v":1948},{"m":"MA10","i":366,"v":1990},{"m":"MA10","i":371,"v":2097},{"m":"MA10","i":375.6,"v":2174},{"m":"MA10","i":382,"v":2193},{"m":"MA10","i":384.8,"v":2161},{"m":"MA10","i":389.4,"v":2097},{"m":"MA10","i":394,"v":2022},{"m":"MA10","i":397,"v":1948},{"m":"MA10","i":401.8,"v":1893},{"m":"MA10","i":405,"v":1887},{"m":"MA10","i":409.7,"v":1926},{"m":"MA10","i":415.7,"v":1968},{"m":"MA10","i":421.7,"v":2022},{"m":"MA10","i":428,"v":2077},{"m":"MA10","i":434,"v":2119},{"m":"MA10","i":440,"v":2103},{"m":"MA10","i":444.7,"v":2097},{"m":"MA10","i":449,"v":2142},{"m":"MA10","i":455.8,"v":2216},{"m":"MA10","i":461.8,"v":2335},{"m":"MA10","i":466,"v":2440},{"m":"MA10","i":469,"v":2504},{"m":"MA10","i":470,"v":2549},{"m":"MA10","i":471,"v":2603},{"m":"MA10","i":472,"v":2647},{"m":"MA10","i":473,"v":2680},{"m":"MA10","i":474,"v":2698},{"m":"MA10","i":475,"v":2719},{"m":"MA10","i":476,"v":2737},{"m":"MA10","i":477,"v":2751},{"m":"MA10","i":478,"v":2763},{"m":"MA10","i":479,"v":2766},{"m":"MA10","i":480,"v":2748},{"m":"MA10","i":481,"v":2719},{"m":"MA10","i":482,"v":2704},{"m":"MA10","i":483,"v":2707},{"m":"MA10","i":484,"v":2719},{"m":"MA10","i":485,"v":2731},{"m":"MA10","i":486,"v":2748},{"m":"MA10","i":487,"v":2760},{"m":"MA10","i":488,"v":2778},{"m":"MA10","i":489,"v":2781},{"m":"MA10","i":490,"v":2781},{"m":"MA10","i":491,"v":2787},{"m":"MA10","i":492,"v":2787},{"m":"MA10","i":493,"v":2778},{"m":"MA10","i":494,"v":2757},{"m":"MA10","i":495,"v":2737},{"m":"MA10","i":496,"v":2734},{"m":"MA10","i":497,"v":2719},{"m":"MA10","i":498,"v":2692},{"m":"MA10","i":499,"v":2668},{"m":"MA10","i":500,"v":2659},{"m":"MA10","i":501,"v":2656},{"m":"MA10","i":502,"v":2656},{"m":"MA10","i":503,"v":2659},{"m":"MA10","i":504,"v":2665},{"m":"MA10","i":505,"v":2674},{"m":"MA10","i":506,"v":2677},{"m":"MA10","i":507,"v":2677},{"m":"MA10","i":508,"v":2689},{"m":"MA10","i":509,"v":2704},{"m":"MA10","i":510,"v":2722},
{"m":"MA5","i":0,"v":1484},{"m":"MA5","i":4.1,"v":1448},{"m":"MA5","i":8.8,"v":1468},{"m":"MA5","i":13.4,"v":1458},{"m":"MA5","i":18,"v":1435},{"m":"MA5","i":22.6,"v":1403},{"m":"MA5","i":25.3,"v":1377},{"m":"MA5","i":30,"v":1409},{"m":"MA5","i":33.2,"v":1400},{"m":"MA5","i":36.4,"v":1303},{"m":"MA5","i":41,"v":1232},{"m":"MA5","i":43.8,"v":1280},{"m":"MA5","i":47,"v":1284},{"m":"MA5","i":50.2,"v":1287},{"m":"MA5","i":54,"v":1329},{"m":"MA5","i":60.8,"v":1367},{"m":"MA5","i":68.7,"v":1345},{"m":"MA5","i":74.7,"v":1355},{"m":"MA5","i":80.6,"v":1345},{"m":"MA5","i":87,"v":1303},{"m":"MA5","i":93,"v":1264},{"m":"MA5","i":99,"v":1255},{"m":"MA5","i":105.5,"v":1258},{"m":"MA5","i":111.5,"v":1255},{"m":"MA5","i":116,"v":1258},{"m":"MA5","i":120.7,"v":1322},{"m":"MA5","i":125.3,"v":1419},{"m":"MA5","i":130,"v":1538},{"m":"MA5","i":134.6,"v":1645},{"m":"MA5","i":138.2,"v":1709},{"m":"MA5","i":142.4,"v":1693},{"m":"MA5","i":147,"v":1700},{"m":"MA5","i":149.8,"v":1658},{"m":"MA5","i":153,"v":1700},{"m":"MA5","i":156.7,"v":1758},{"m":"MA5","i":160.8,"v":1732},{"m":"MA5","i":165.4,"v":1709},{"m":"MA5","i":170,"v":1709},{"m":"MA5","i":172.8,"v":1658},{"m":"MA5","i":176,"v":1529},{"m":"MA5","i":180.6,"v":1506},{"m":"MA5","i":185,"v":1497},{"m":"MA5","i":191,"v":1484},{"m":"MA5","i":197.7,"v":1468},{"m":"MA5","i":200.5,"v":1442},{"m":"MA5","i":207,"v":1474},{"m":"MA5","i":213,"v":1516},{"m":"MA5","i":217.5,"v":1548},{"m":"MA5","i":222,"v":1532},{"m":"MA5","i":228,"v":1529},{"m":"MA5","i":236,"v":1561},{"m":"MA5","i":240.6,"v":1538},{"m":"MA5","i":245,"v":1516},{"m":"MA5","i":249.8,"v":1548},{"m":"MA5","i":254.4,"v":1603},{"m":"MA5","i":259,"v":1613},{"m":"MA5","i":263.6,"v":1674},{"m":"MA5","i":268.2,"v":1716},{"m":"MA5","i":272.8,"v":1700},{"m":"MA5","i":277.4,"v":1674},{"m":"MA5","i":280.6,"v":1635},{"m":"MA5","i":285.3,"v":1661},{"m":"MA5","i":290,"v":1651},{"m":"MA5","i":295.9,"v":1668},{"m":"MA5","i":300.5,"v":1684},{"m":"MA5","i":305,"v":1706},{"m":"MA5","i":309.7,"v":1690},{"m":"MA5","i":314.3,"v":1693},{"m":"MA5","i":319,"v":1668},{"m":"MA5","i":323.5,"v":1690},{"m":"MA5","i":328,"v":1732},{"m":"MA5","i":334,"v":1790},{"m":"MA5","i":338.7,"v":1764},{"m":"MA5","i":343.3,"v":1774},{"m":"MA5","i":348,"v":1819},{"m":"MA5","i":351,"v":1893},{"m":"MA5","i":357,"v":1958},{"m":"MA5","i":360.4,"v":1926},{"m":"MA5","i":365,"v":1968},{"m":"MA5","i":369.6,"v":2097},{"m":"MA5","i":374.2,"v":2206},{"m":"MA5","i":377.4,"v":2232},{"m":"MA5","i":380.2,"v":2174},{"m":"MA5","i":383.4,"v":2151},{"m":"MA5","i":386.6,"v":2161},{"m":"MA5","i":391.2,"v":2097},{"m":"MA5","i":394,"v":1990},{"m":"MA5","i":395.8,"v":1893},{"m":"MA5","i":398.6,"v":1871},{"m":"MA5","i":403.2,"v":1903},{"m":"MA5","i":407.8,"v":1948},{"m":"MA5","i":412.4,"v":1958},{"m":"MA5","i":419,"v":2022},{"m":"MA5","i":425,"v":2097},{"m":"MA5","i":429.5,"v":2119},{"m":"MA5","i":434,"v":2119},{"m":"MA5","i":438.7,"v":2087},{"m":"MA5","i":442,"v":2077},{"m":"MA5","i":446.5,"v":2142},{"m":"MA5","i":451,"v":2216},{"m":"MA5","i":455.8,"v":2280},{"m":"MA5","i":460.4,"v":2377},{"m":"MA5","i":465,"v":2430},{"m":"MA5","i":467,"v":2490},{"m":"MA5","i":468,"v":2534},{"m":"MA5","i":469,"v":2600},{"m":"MA5","i":470,"v":2674},{"m":"MA5","i":471,"v":2763},{"m":"MA5","i":472,"v":2796},{"m":"MA5","i":473,"v":2817},{"m":"MA5","i":474,"v":2808},{"m":"MA5","i":475,"v":2778},{"m":"MA5","i":476,"v":2737},{"m":"MA5","i":477,"v":2716},{"m":"MA5","i":478,"v":2704},{"m":"MA5","i":479,"v":2737},{"m":"MA5","i":480,"v":2728},{"m":"MA5","i":481,"v":2719},{"m":"MA5","i":482,"v":2701},{"m":"MA5","i":483,"v":2704},{"m":"MA5","i":484,"v":2689},{"m":"MA5","i":485,"v":2725},{"m":"MA5","i":486,"v":2778},{"m":"MA5","i":487,"v":2808},{"m":"MA5","i":488,"v":2826},{"m":"MA5","i":489,"v":2838},{"m":"MA5","i":490,"v":2826},{"m":"MA5","i":491,"v":2808},{"m":"MA5","i":492,"v":2775},{"m":"MA5","i":493,"v":2728},{"m":"MA5","i":494,"v":2683},{"m":"MA5","i":495,"v":2662},{"m":"MA5","i":496,"v":2659},{"m":"MA5","i":497,"v":2665},{"m":"MA5","i":498,"v":2662},{"m":"MA5","i":499,"v":2656},{"m":"MA5","i":500,"v":2647},{"m":"MA5","i":501,"v":2644},{"m":"MA5","i":502,"v":2644},{"m":"MA5","i":503,"v":2650},{"m":"MA5","i":504,"v":2671},{"m":"MA5","i":505,"v":2704},{"m":"MA5","i":506,"v":2713},{"m":"MA5","i":507,"v":2722},{"m":"MA5","i":508,"v":2734},{"m":"MA5","i":509,"v":2748},{"m":"MA5","i":510,"v":2746}
]
},
"layer":[
{"layer":[
{"mark":{"type":"rect","fill":"#f9f9f9"},"encoding":{"x":{"datum":-24.4,"type":"quantitative","scale":{"domain":[-35.945,550.69],"nice":false,"zero":false},"axis":null},"x2":{"datum":537.3},"y":{"datum":3516,"type":"quantitative","scale":{"domain":[583.65,3603],"nice":false,"zero":false},"axis":null},"y2":{"datum":719}}},
{"data":{"name":"grid"},"mark":{"type":"rule","stroke":"#cccccc","strokeDash":[1,3],"strokeWidth":1},"encoding":{"y":{"field":"g","type":"quantitative","scale":{"domain":[583.65,3603],"nice":false,"zero":false},"axis":null},"x":{"datum":-0.5,"type":"quantitative","scale":{"domain":[-35.945,550.69],"nice":false,"zero":false},"axis":null},"x2":{"datum":513.8}}},
{"data":{"name":"bars"},"mark":{"type":"rule","stroke":"#c4c4c4"},"encoding":{"x":{"field":"i","type":"quantitative","scale":{"domain":[-35.945,550.69],"nice":false,"zero":false},"axis":null},"y":{"field":"gl","type":"quantitative","scale":{"domain":[583.65,3603],"nice":false,"zero":false},"axis":null},"y2":{"field":"gh"},"strokeWidth":{"condition":{"test":"datum.i>=466","value":1.2},"value":2}}},
{"data":{"name":"bars"},"mark":{"type":"rule"},"encoding":{"x":{"field":"i","type":"quantitative","scale":{"domain":[-35.945,550.69],"nice":false,"zero":false},"axis":null},"y":{"field":"cl","type":"quantitative","scale":{"domain":[583.65,3603],"nice":false,"zero":false},"axis":null},"y2":{"field":"ch"},"color":{"condition":{"test":"datum.u==1","value":"#ee5050"},"value":"#34a034"},"strokeWidth":{"condition":{"test":"datum.i>=466","value":1.2},"value":1.8}}},
{"data":{"name":"ma"},"mark":{"type":"line","interpolate":"monotone"},"encoding":{"x":{"field":"i","type":"quantitative","scale":{"domain":[-35.945,550.69],"nice":false,"zero":false},"axis":null},"y":{"field":"v","type":"quantitative","scale":{"domain":[583.65,3603],"nice":false,"zero":false},"axis":null},"color":{"field":"m","type":"nominal","scale":{"domain":["MA250","MA120","MA60","MA30","MA20","MA10","MA5"],"range":["#7a7a7a","#4fe0e0","#3aa53a","#aaaaaa","#a03ca3","#3d9be0","#3a3a3a"]},"legend":null},"strokeWidth":{"field":"m","type":"ordinal","scale":{"domain":["MA250","MA120","MA60","MA30","MA20","MA10","MA5"],"range":[2.2,1.7,1.3,1.2,1.2,1.2,1.1]},"legend":null}}},
{"mark":{"type":"rect","fill":"#f57a7a","opacity":0.33,"cornerRadius":10},"encoding":{"x":{"datum":465,"type":"quantitative","scale":{"domain":[-35.945,550.69],"nice":false,"zero":false},"axis":null},"x2":{"datum":513.8},"y":{"datum":3245,"type":"quantitative","scale":{"domain":[583.65,3603],"nice":false,"zero":false},"axis":null},"y2":{"datum":2513}}},
{"mark":{"type":"rule","stroke":"#e8141c","strokeWidth":3},"encoding":{"x":{"datum":311,"type":"quantitative","scale":{"domain":[-35.945,550.69],"nice":false,"zero":false},"axis":null},"x2":{"datum":447},"y":{"datum":2848,"type":"quantitative","scale":{"domain":[583.65,3603],"nice":false,"zero":false},"axis":null}}},
{"mark":{"type":"point","shape":"M1,0L-1,-0.5L-1,0.5Z","size":900,"filled":true,"fill":"#e8141c","strokeWidth":0,"opacity":1},"encoding":{"x":{"datum":447,"type":"quantitative","scale":{"domain":[-35.945,550.69],"nice":false,"zero":false},"axis":null},"y":{"datum":2848,"type":"quantitative","scale":{"domain":[583.65,3603],"nice":false,"zero":false},"axis":null}}},
{"mark":{"type":"point","shape":"M-1,0L1,-0.5L1,0.5Z","size":900,"filled":true,"fill":"#e8141c","strokeWidth":0,"opacity":1},"encoding":{"x":{"datum":311.06,"type":"quantitative","scale":{"domain":[-35.945,550.69],"nice":false,"zero":false},"axis":null},"y":{"datum":2848,"type":"quantitative","scale":{"domain":[583.65,3603],"nice":false,"zero":false},"axis":null}}},
{"mark":{"type":"rect","fill":"#d6d6d6","opacity":0.7,"cornerRadius":9},"encoding":{"x":{"datum":3.4,"type":"quantitative","scale":{"domain":[-35.945,550.69],"nice":false,"zero":false},"axis":null},"x2":{"datum":91.2},"y":{"datum":3312,"type":"quantitative","scale":{"domain":[583.65,3603],"nice":false,"zero":false},"axis":null},"y2":{"datum":3204}}},
{"mark":{"type":"rect","fill":"#fbc9c9","cornerRadius":9},"encoding":{"x":{"datum":2.3,"type":"quantitative","scale":{"domain":[-35.945,550.69],"nice":false,"zero":false},"axis":null},"x2":{"datum":89.9},"y":{"datum":3322,"type":"quantitative","scale":{"domain":[583.65,3603],"nice":false,"zero":false},"axis":null},"y2":{"datum":3213}}},
{"mark":{"type":"text","text":"2020年9月6日绘制","fontSize":18,"font":"Liberation Serif, Noto Sans CJK SC","align":"center","baseline":"middle","color":"#111111"},"encoding":{"x":{"datum":46.1,"type":"quantitative","scale":{"domain":[-35.945,550.69],"nice":false,"zero":false},"axis":null},"y":{"datum":3268,"type":"quantitative","scale":{"domain":[583.65,3603],"nice":false,"zero":false},"axis":null}}},
{"mark":{"type":"text","text":"创业板指(日线,前复权)","fontSize":10,"font":"Noto Sans CJK SC","align":"left","baseline":"middle","color":"#555555"},"encoding":{"x":{"datum":0.92,"type":"quantitative","scale":{"domain":[-35.945,550.69],"nice":false,"zero":false},"axis":null},"y":{"datum":3403,"type":"quantitative","scale":{"domain":[583.65,3603],"nice":false,"zero":false},"axis":null}}},
{"mark":{"type":"point","shape":"circle","size":64,"filled":true,"color":"#777777","opacity":1},"encoding":{"x":{"datum":49.8,"type":"quantitative","scale":{"domain":[-35.945,550.69],"nice":false,"zero":false},"axis":null},"y":{"datum":3403,"type":"quantitative","scale":{"domain":[583.65,3603],"nice":false,"zero":false},"axis":null}}},
{"mark":{"type":"text","text":"MA5: 2745.94","fontSize":10.5,"font":"Noto Sans CJK SC","align":"left","baseline":"middle","color":"#333333"},"encoding":{"x":{"datum":53,"type":"quantitative","scale":{"domain":[-35.945,550.69],"nice":false,"zero":false},"axis":null},"y":{"datum":3403,"type":"quantitative","scale":{"domain":[583.65,3603],"nice":false,"zero":false},"axis":null}}},
{"mark":{"type":"text","text":"MA10: 2720.71","fontSize":10.5,"font":"Noto Sans CJK SC","align":"left","baseline":"middle","color":"#2d8fe0"},"encoding":{"x":{"datum":84.3,"type":"quantitative","scale":{"domain":[-35.945,550.69],"nice":false,"zero":false},"axis":null},"y":{"datum":3403,"type":"quantitative","scale":{"domain":[583.65,3603],"nice":false,"zero":false},"axis":null}}},
{"mark":{"type":"text","text":"MA20: 2689.42","fontSize":10.5,"font":"Noto Sans CJK SC","align":"left","baseline":"middle","color":"#a02aa0"},"encoding":{"x":{"datum":117.1,"type":"quantitative","scale":{"domain":[-35.945,550.69],"nice":false,"zero":false},"axis":null},"y":{"datum":3403,"type":"quantitative","scale":{"domain":[583.65,3603],"nice":false,"zero":false},"axis":null}}},
{"mark":{"type":"text","text":"MA30: 2717.32","fontSize":10.5,"font":"Noto Sans CJK SC","align":"left","baseline":"middle","color":"#9a9a9a"},"encoding":{"x":{"datum":150.7,"type":"quantitative","scale":{"domain":[-35.945,550.69],"nice":false,"zero":false},"axis":null},"y":{"datum":3403,"type":"quantitative","scale":{"domain":[583.65,3603],"nice":false,"zero":false},"axis":null}}},
{"mark":{"type":"text","text":"MA60: 2621.42","fontSize":10.5,"font":"Noto Sans CJK SC","align":"left","baseline":"middle","color":"#1e951e"},"encoding":{"x":{"datum":183.9,"type":"quantitative","scale":{"domain":[-35.945,550.69],"nice":false,"zero":false},"axis":null},"y":{"datum":3403,"type":"quantitative","scale":{"domain":[583.65,3603],"nice":false,"zero":false},"axis":null}}},
{"mark":{"type":"text","text":"MA120: 2324.83","fontSize":10.5,"font":"Noto Sans CJK SC","align":"left","baseline":"middle","color":"#3fd6d6"},"encoding":{"x":{"datum":217.5,"type":"quantitative","scale":{"domain":[-35.945,550.69],"nice":false,"zero":false},"axis":null},"y":{"datum":3403,"type":"quantitative","scale":{"domain":[583.65,3603],"nice":false,"zero":false},"axis":null}}},
{"mark":{"type":"text","text":"MA250: 2058.90","fontSize":10.5,"font":"Noto Sans CJK SC","align":"left","baseline":"middle","color":"#444444"},"encoding":{"x":{"datum":253.5,"type":"quantitative","scale":{"domain":[-35.945,550.69],"nice":false,"zero":false},"axis":null},"y":{"datum":3403,"type":"quantitative","scale":{"domain":[583.65,3603],"nice":false,"zero":false},"axis":null}}},
{"mark":{"type":"text","text":"[创业板综]","fontSize":10.5,"font":"Noto Sans CJK SC","align":"left","baseline":"middle","color":"#aaaaaa"},"encoding":{"x":{"datum":291.7,"type":"quantitative","scale":{"domain":[-35.945,550.69],"nice":false,"zero":false},"axis":null},"y":{"datum":3403,"type":"quantitative","scale":{"domain":[583.65,3603],"nice":false,"zero":false},"axis":null}}},
{"mark":{"type":"text","text":"2020年7月13日2896点","fontSize":18,"font":"Liberation Serif, Noto Sans CJK SC","align":"center","baseline":"middle","color":"#111111"},"encoding":{"x":{"datum":456.2,"type":"quantitative","scale":{"domain":[-35.945,550.69],"nice":false,"zero":false},"axis":null},"y":{"datum":3287,"type":"quantitative","scale":{"domain":[583.65,3603],"nice":false,"zero":false},"axis":null}}},
{"mark":{"type":"text","text":"2020年2月25日2293点","fontSize":18,"font":"Liberation Serif, Noto Sans CJK SC","align":"center","baseline":"middle","color":"#111111"},"encoding":{"x":{"datum":375.6,"type":"quantitative","scale":{"domain":[-35.945,550.69],"nice":false,"zero":false},"axis":null},"y":{"datum":2600,"type":"quantitative","scale":{"domain":[583.65,3603],"nice":false,"zero":false},"axis":null}}},
{"mark":{"type":"text","text":"2019年4月8日1792点","fontSize":18.5,"font":"Liberation Serif, Noto Sans CJK SC","align":"center","baseline":"middle","color":"#111111"},"encoding":{"x":{"datum":155.8,"type":"quantitative","scale":{"domain":[-35.945,550.69],"nice":false,"zero":false},"axis":null},"y":{"datum":2045,"type":"quantitative","scale":{"domain":[583.65,3603],"nice":false,"zero":false},"axis":null}}},
{"mark":{"type":"text","text":"2020年3月24日1817点","fontSize":18,"font":"Liberation Serif, Noto Sans CJK SC","align":"center","baseline":"middle","color":"#111111"},"encoding":{"x":{"datum":402.3,"type":"quantitative","scale":{"domain":[-35.945,550.69],"nice":false,"zero":false},"axis":null},"y":{"datum":1742,"type":"quantitative","scale":{"domain":[583.65,3603],"nice":false,"zero":false},"axis":null}}},
{"mark":{"type":"text","text":"1411","fontSize":18,"font":"Liberation Serif, Noto Sans CJK SC","align":"center","baseline":"middle","color":"#111111"},"encoding":{"x":{"datum":197.2,"type":"quantitative","scale":{"domain":[-35.945,550.69],"nice":false,"zero":false},"axis":null},"y":{"datum":1355,"type":"quantitative","scale":{"domain":[583.65,3603],"nice":false,"zero":false},"axis":null}}},
{"mark":{"type":"text","text":"1201","fontSize":18,"font":"Liberation Serif, Noto Sans CJK SC","align":"center","baseline":"middle","color":"#111111"},"encoding":{"x":{"datum":95.4,"type":"quantitative","scale":{"domain":[-35.945,550.69],"nice":false,"zero":false},"axis":null},"y":{"datum":1158,"type":"quantitative","scale":{"domain":[583.65,3603],"nice":false,"zero":false},"axis":null}}},
{"mark":{"type":"text","text":"2018年10月19日1184点","fontSize":18,"font":"Liberation Serif, Noto Sans CJK SC","align":"center","baseline":"middle","color":"#111111"},"encoding":{"x":{"datum":41.9,"type":"quantitative","scale":{"domain":[-35.945,550.69],"nice":false,"zero":false},"axis":null},"y":{"datum":1071,"type":"quantitative","scale":{"domain":[583.65,3603],"nice":false,"zero":false},"axis":null}}},
{"mark":{"type":"text","text":"8月12日以来创业板指和创业板综严重背离","fontSize":18,"font":"Liberation Serif, Noto Sans CJK SC","align":"center","baseline":"middle","color":"#111111"},"encoding":{"x":{"datum":146.5,"type":"quantitative","scale":{"domain":[-35.945,550.69],"nice":false,"zero":false},"axis":null},"y":{"datum":2255,"type":"quantitative","scale":{"domain":[583.65,3603],"nice":false,"zero":false},"axis":null}}},
{"mark":{"type":"text","text":"注：彩色为创业板指，灰色为创业板综。","fontSize":17.3,"font":"Liberation Serif, Noto Sans CJK SC","align":"center","baseline":"middle","color":"#111111"},"encoding":{"x":{"datum":420.7,"type":"quantitative","scale":{"domain":[-35.945,550.69],"nice":false,"zero":false},"axis":null},"y":{"datum":1235,"type":"quantitative","scale":{"domain":[583.65,3603],"nice":false,"zero":false},"axis":null}}},
{"mark":{"type":"text","text":"创业板指（ 399006 ）与创业板综（ 399102 ）2018年10月19日1184点以来首次严重背离","fontSize":29,"font":"Liberation Serif, Noto Sans CJK SC","align":"center","baseline":"middle","color":"#111111"},"encoding":{"x":{"datum":257.6,"type":"quantitative","scale":{"domain":[-35.945,550.69],"nice":false,"zero":false},"axis":null},"y":{"datum":909,"type":"quantitative","scale":{"domain":[583.65,3603],"nice":false,"zero":false},"axis":null}}},
{"mark":{"type":"text","text":"←1184.91","fontSize":11.5,"font":"Noto Sans CJK SC","align":"left","baseline":"middle","color":"#666666","dx":1},"encoding":{"x":{"datum":41,"type":"quantitative","scale":{"domain":[-35.945,550.69],"nice":false,"zero":false},"axis":null},"y":{"datum":1184,"type":"quantitative","scale":{"domain":[583.65,3603],"nice":false,"zero":false},"axis":null}}},
{"mark":{"type":"text","text":"←2896.31","fontSize":11.5,"font":"Noto Sans CJK SC","align":"left","baseline":"middle","color":"#666666","dx":1,"dy":2},"encoding":{"x":{"datum":471,"type":"quantitative","scale":{"domain":[-35.945,550.69],"nice":false,"zero":false},"axis":null},"y":{"datum":2896,"type":"quantitative","scale":{"domain":[583.65,3603],"nice":false,"zero":false},"axis":null}}},
{"mark":{"type":"rule","stroke":"#cccccc","strokeWidth":2},"encoding":{"x":{"datum":-0.46,"type":"quantitative","scale":{"domain":[-35.945,550.69],"nice":false,"zero":false},"axis":null},"x2":{"datum":513.4},"y":{"datum":809.5,"type":"quantitative","scale":{"domain":[583.65,3603],"nice":false,"zero":false},"axis":null}}},
{"data":{"name":"months"},"mark":{"type":"rule","stroke":"#c0c0c0","strokeWidth":1},"encoding":{"x":{"field":"i","type":"quantitative","scale":{"domain":[-35.945,550.69],"nice":false,"zero":false},"axis":null},"y":{"datum":809.5,"type":"quantitative","scale":{"domain":[583.65,3603],"nice":false,"zero":false},"axis":null},"y2":{"datum":770.7}}},
{"data":{"name":"months"},"mark":{"type":"text","fontSize":11,"font":"Noto Sans CJK SC","align":"left","baseline":"middle","color":"#999999","dx":2},"encoding":{"x":{"field":"i","type":"quantitative","scale":{"domain":[-35.945,550.69],"nice":false,"zero":false},"axis":null},"y":{"datum":786.9,"type":"quantitative","scale":{"domain":[583.65,3603],"nice":false,"zero":false},"axis":null},"text":{"field":"t"}}},
{"mark":{"type":"text","text":"2018年","fontSize":11,"font":"Noto Sans CJK SC","align":"left","baseline":"middle","color":"#999999"},"encoding":{"x":{"datum":0,"type":"quantitative","scale":{"domain":[-35.945,550.69],"nice":false,"zero":false},"axis":null},"y":{"datum":786.9,"type":"quantitative","scale":{"domain":[583.65,3603],"nice":false,"zero":false},"axis":null}}}
]},
{"layer":[
{"mark":{"type":"rect","fill":"#f9f9f9"},"encoding":{"x":{"datum":463.12,"type":"quantitative","scale":{"domain":[457.751,552.609],"nice":false,"zero":false},"axis":null},"x2":{"datum":512.52},"y":{"datum":3262.6,"type":"quantitative","scale":{"domain":[867.5,3649.03],"nice":false,"zero":false},"axis":null},"y2":{"datum":2466.1}}},
{"data":{"name":"igrid"},"mark":{"type":"rule","stroke":"#cccccc","strokeDash":[1,3],"strokeWidth":1},"encoding":{"y":{"field":"g","type":"quantitative","scale":{"domain":[867.5,3649.03],"nice":false,"zero":false},"axis":null},"x":{"datum":463.71,"type":"quantitative","scale":{"domain":[457.751,552.609],"nice":false,"zero":false},"axis":null},"x2":{"datum":512.52}}},
{"data":{"name":"bars"},"transform":[{"filter":"datum.i>=466"}],"mark":{"type":"rule","strokeWidth":1},"encoding":{"x":{"field":"i","type":"quantitative","scale":{"domain":[457.751,552.609],"nice":false,"zero":false},"axis":null},"y":{"field":"cl","type":"quantitative","scale":{"domain":[867.5,3649.03],"nice":false,"zero":false},"axis":null},"y2":{"field":"ch"},"color":{"condition":{"test":"datum.u==1","value":"#f06262"},"value":"#2e8b2e"}}},
{"data":{"name":"bars"},"transform":[{"filter":"datum.i>=466"}],"mark":{"type":"bar","width":9,"strokeWidth":1},"encoding":{"x":{"field":"i","type":"quantitative","scale":{"domain":[457.751,552.609],"nice":false,"zero":false},"axis":null},"y":{"field":"co","type":"quantitative","scale":{"domain":[867.5,3649.03],"nice":false,"zero":false},"axis":null},"y2":{"field":"cc"},"fill":{"condition":{"test":"datum.cc<datum.co","value":"#2e8b2e"},"value":"#f9f9f9"},"stroke":{"condition":{"test":"datum.cc<datum.co","value":"#2e8b2e"},"value":"#f06262"}}},
{"data":{"name":"bars"},"transform":[{"filter":"datum.i>=466"}],"mark":{"type":"rule","strokeWidth":1,"stroke":"#9a9a9a"},"encoding":{"x":{"field":"i","type":"quantitative","scale":{"domain":[457.751,552.609],"nice":false,"zero":false},"axis":null},"y":{"field":"gl","type":"quantitative","scale":{"domain":[867.5,3649.03],"nice":false,"zero":false},"axis":null},"y2":{"field":"gh"}}},
{"data":{"name":"bars"},"transform":[{"filter":"datum.i>=466"}],"mark":{"type":"bar","width":9,"strokeWidth":1,"stroke":"#9a9a9a"},"encoding":{"x":{"field":"i","type":"quantitative","scale":{"domain":[457.751,552.609],"nice":false,"zero":false},"axis":null},"y":{"field":"go","type":"quantitative","scale":{"domain":[867.5,3649.03],"nice":false,"zero":false},"axis":null},"y2":{"field":"gc"},"fill":{"condition":{"test":"datum.gc<datum.go","value":"#999999"},"value":"#fdfdfd"}}},
{"data":{"name":"ma"},"transform":[{"filter":"datum.i>=466 && datum.v>=2476 && datum.m!='MA120' && datum.m!='MA250'"}],"mark":{"type":"line","interpolate":"monotone","strokeWidth":1.2},"encoding":{"x":{"field":"i","type":"quantitative","scale":{"domain":[457.751,552.609],"nice":false,"zero":false},"axis":null},"y":{"field":"v","type":"quantitative","scale":{"domain":[867.5,3649.03],"nice":false,"zero":false},"axis":null},"color":{"field":"m","type":"nominal","scale":{"domain":["MA60","MA30","MA20","MA10","MA5"],"range":["#4cae4c","#b0b0b0","#a03ca8","#4aa0e6","#555555"]},"legend":null}}},
{"mark":{"type":"text","text":"←2896.31","fontSize":11.5,"font":"Noto Sans CJK SC","align":"left","baseline":"middle","color":"#666666","dx":1,"dy":3},"encoding":{"x":{"datum":471.04,"type":"quantitative","scale":{"domain":[457.751,552.609],"nice":false,"zero":false},"axis":null},"y":{"datum":2896,"type":"quantitative","scale":{"domain":[867.5,3649.03],"nice":false,"zero":false},"axis":null}}},
{"mark":{"type":"text","text":"2020年8月12日","fontSize":18,"font":"Liberation Serif, Noto Sans CJK SC","align":"center","baseline":"middle","color":"#111111"},"encoding":{"x":{"datum":499.18,"type":"quantitative","scale":{"domain":[457.751,552.609],"nice":false,"zero":false},"axis":null},"y":{"datum":2519.6,"type":"quantitative","scale":{"domain":[867.5,3649.03],"nice":false,"zero":false},"axis":null}}}
]}
],
"resolve":{"scale":{"x":"independent","y":"independent","color":"independent","strokeWidth":"independent"}}
}
